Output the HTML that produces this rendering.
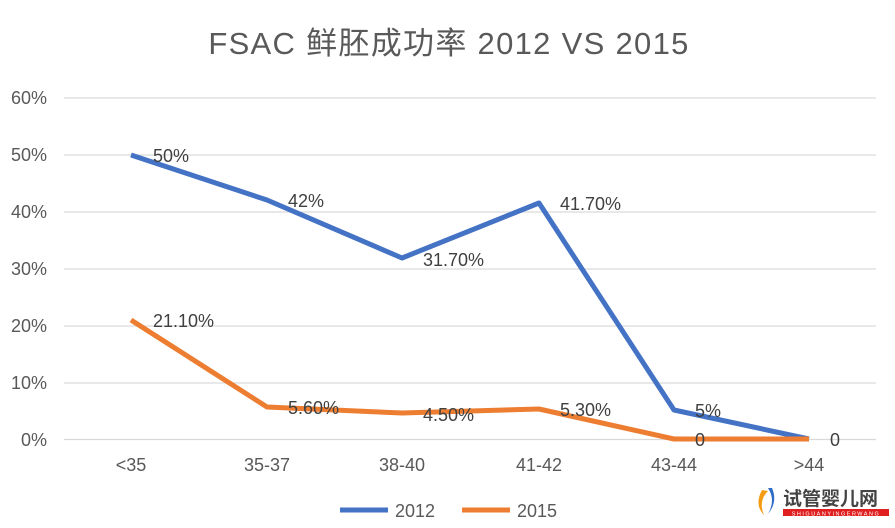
<!DOCTYPE html>
<html><head><meta charset="utf-8"><style>
body{margin:0;background:#fff;}
svg text{font-family:"Liberation Sans","Noto Sans CJK SC",sans-serif;}
</style></head><body>
<svg width="895" height="523" xmlns="http://www.w3.org/2000/svg">
<rect width="895" height="523" fill="#fff"/>
<text x="449" y="54" text-anchor="middle" font-size="31" letter-spacing="1.3" fill="#595959">FSAC 鲜胚成功率 2012 VS 2015</text>
<g stroke="#d9d9d9" stroke-width="1.2">
<line x1="64" x2="876" y1="98" y2="98"/><line x1="64" x2="876" y1="155" y2="155"/>
<line x1="64" x2="876" y1="212" y2="212"/><line x1="64" x2="876" y1="269" y2="269"/>
<line x1="64" x2="876" y1="326" y2="326"/><line x1="64" x2="876" y1="383" y2="383"/>
<line x1="64" x2="876" y1="439.5" y2="439.5"/>
</g>
<g font-size="18" fill="#595959" text-anchor="end">
<text x="47" y="104">60%</text><text x="47" y="161">50%</text><text x="47" y="218">40%</text>
<text x="47" y="275">30%</text><text x="47" y="332">20%</text><text x="47" y="389">10%</text>
<text x="47" y="446">0%</text>
</g>
<g font-size="18" fill="#595959" text-anchor="middle">
<text x="131" y="471">&lt;35</text><text x="267" y="471">35-37</text><text x="402" y="471">38-40</text>
<text x="539" y="471">41-42</text><text x="674" y="471">43-44</text><text x="809" y="471">&gt;44</text>
</g>
<polyline points="131,155 267,200 402,258 539,203 674,410 809,439" fill="none" stroke="#4472c4" stroke-width="5" stroke-linejoin="round"/>
<polyline points="131,320 267,407 402,413 539,409 674,439 809,439" fill="none" stroke="#ed7d31" stroke-width="5" stroke-linejoin="round"/>
<g font-size="18" fill="#404040">
<text x="153" y="162">50%</text><text x="288" y="207">42%</text><text x="423" y="266">31.70%</text>
<text x="560" y="210">41.70%</text><text x="695" y="417">5%</text><text x="830" y="446">0</text>
<text x="153" y="327">21.10%</text><text x="288" y="414">5.60%</text><text x="423" y="421">4.50%</text>
<text x="560" y="416">5.30%</text><text x="695" y="446">0</text>
</g>
<line x1="340" x2="388" y1="510" y2="510" stroke="#4472c4" stroke-width="5"/>
<text x="395" y="517" font-size="18" fill="#595959">2012</text>
<line x1="462" x2="510" y1="510" y2="510" stroke="#ed7d31" stroke-width="5"/>
<text x="517" y="517" font-size="18" fill="#595959">2015</text>
<path d="M762 490 q-8 15 2 25 q-6-14 4-24z" fill="#f39c12"/>
<path d="M768 488 q8 12 0 26 q10-12 4-26z" fill="#2e6bc6"/>
<text x="783" y="505" font-size="19" font-weight="bold" fill="#444">试管婴儿网</text>
<rect x="783" y="509" width="106" height="7" fill="#e02020"/>
<text x="836" y="515.5" font-size="5.5" fill="#fff" text-anchor="middle" letter-spacing="1.5">SHIGUANYINGERWANG</text>
</svg>
</body></html>
